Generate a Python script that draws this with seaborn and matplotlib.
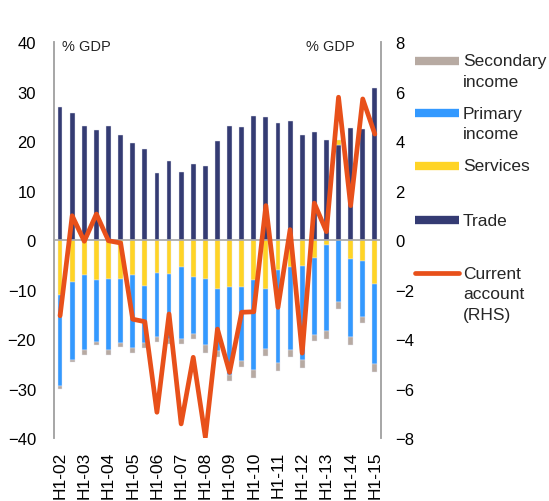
import numpy as np
import pandas as pd
import matplotlib
matplotlib.use("Agg")
import matplotlib.pyplot as plt
from matplotlib.lines import Line2D
import seaborn as sns

sns.set_style("white")
plt.rcParams['font.family'] = ['Liberation Sans', 'DejaVu Sans']

# half-year periods H1-02 ... H1-15
periods = [f"H{h}-{y:02d}" for y in range(2, 16) for h in (1, 2)][:27]
tick_labels = [f"H1-{y:02d}" for y in range(2, 16)]

trade = [26.9, 25.6, 23.1, 22.3, 23.1, 21.3, 19.7, 18.4, 13.6, 15.9, 13.8, 15.4, 14.9, 20.0,
         23.0, 22.9, 25.0, 24.8, 23.6, 24.0, 21.3, 21.8, 20.3, 19.1, 22.6, 22.4, 30.8]
services = [-11.1, -8.5, -7.1, -8.0, -7.9, -7.9, -7.1, -9.2, -6.6, -6.9, -5.4, -7.5, -7.9, -9.9,
            -9.4, -9.4, -8.1, -9.8, -6.1, -5.5, -5.3, -3.6, -1.1, 1.2, -3.9, -4.2, -8.9]
primary = [-18.3, -15.7, -15.1, -12.6, -14.3, -13.0, -14.7, -11.6, -12.9, -13.1, -14.6, -11.5, -13.4, -12.6,
           -17.8, -15.0, -18.2, -12.2, -18.7, -16.7, -18.9, -15.6, -17.2, -12.5, -15.6, -11.3, -16.2]
secondary = [-0.6, -0.5, -1.0, -0.7, -1.0, -0.7, -1.1, -1.0, -1.2, -1.0, -1.1, -1.1, -1.6, -1.2,
             -1.2, -1.3, -1.6, -1.5, -1.6, -1.5, -1.7, -1.3, -1.8, -1.4, -1.7, -1.3, -1.5]
current_account = [-3.06, 0.98, -0.05, 1.05, -0.03, -0.12, -3.2, -3.3, -6.96, -2.99, -7.43, -4.74, -7.97, -3.6,
                   -5.35, -2.92, -2.9, 1.39, -2.72, 0.42, -4.57, 1.49, 0.34, 5.77, 1.39, 5.7, 4.28]

df = pd.DataFrame({"period": periods, "trade": trade, "services": services,
                   "primary": primary, "secondary": secondary, "ca": current_account})
df["pos"] = np.arange(len(df))

colors = {"trade": "#343B73", "services": "#FFD426", "primary": "#3399FF",
          "secondary": "#B7AAA2", "ca": "#E8501A"}

fig = plt.figure(figsize=(5.49, 5.02), dpi=100)
ax = fig.add_axes([0.0984, 0.1255, 0.5954, 0.7888])

w = 0.4
pos_base = np.zeros(len(df))
neg_base = np.zeros(len(df))
for col in ["trade", "services", "primary", "secondary"]:
    vals = df[col].to_numpy()
    bottoms = np.where(vals >= 0, pos_base, neg_base)
    ax.bar(df["pos"], vals, bottom=bottoms, width=w, color=colors[col],
           edgecolor="#e4e6f0", linewidth=0.3, zorder=2)
    pos_base = pos_base + np.where(vals >= 0, vals, 0)
    neg_base = neg_base + np.where(vals < 0, vals, 0)

ax.axhline(0, color="#a6a6a6", lw=1.2, zorder=3)
ax.set_ylim(-40, 40)
ax.set_yticks(range(-40, 41, 10))
ax.set_xlim(-0.5, 26.5)
ax.set_xticks(np.arange(0, 27, 2))
ax.set_xticklabels(tick_labels, rotation=90)

ax2 = ax.twinx()
sns.lineplot(data=df, x="pos", y="ca", ax=ax2, color=colors["ca"], lw=3.4, zorder=4)
ax2.set_ylim(-8, 8)
ax2.set_yticks(range(-8, 9, 2))
ax2.set_xlim(-0.5, 26.5)
ax2.set_xlabel("")
ax2.set_ylabel("")
ax.set_xlabel("")
ax.set_ylabel("")

for a in (ax, ax2):
    for s in ("top", "bottom"):
        a.spines[s].set_visible(False)
    a.spines["left"].set_color("#a6a6a6")
    a.spines["right"].set_color("#a6a6a6")
    a.spines["left"].set_linewidth(1.2)
    a.spines["right"].set_linewidth(1.2)
    a.tick_params(length=0, labelsize=12, colors="black")
ax.tick_params(axis="x", labelsize=12.5, pad=9)
ax.tick_params(axis="y", pad=13)
ax2.tick_params(axis="y", pad=10.5)
for t in ax2.get_yticklabels():
    t.set_horizontalalignment("left")

fig.text(0.113, 0.906, "% GDP", fontsize=10.5, va="center")
fig.text(0.557, 0.906, "% GDP", fontsize=10.5, va="center")

# legend drawn manually to keep Excel-style alignment (handle at first text line)
leg_items = [(["Secondary", "income"], colors["secondary"], 61.7, 6),
             (["Primary", "income"], colors["primary"], 114, 6),
             (["Services"], colors["services"], 166.7, 6),
             (["Trade"], colors["trade"], 221, 6),
             (["Current", "account", "(RHS)"], colors["ca"], 274.3, 3.4)]
for lines, c, ypx, lw in leg_items:
    yf = 1 - ypx / 502
    fig.add_artist(Line2D([415 / 549, 459 / 549], [yf, yf], color=c, lw=lw,
                          solid_capstyle="round" if lw < 4 else "butt"))
    for i, line in enumerate(lines):
        fig.text(463 / 549, 1 - (ypx + 20.5 * i) / 502, line, fontsize=12.5, va="center")

fig.savefig("out.png", dpi=100)
